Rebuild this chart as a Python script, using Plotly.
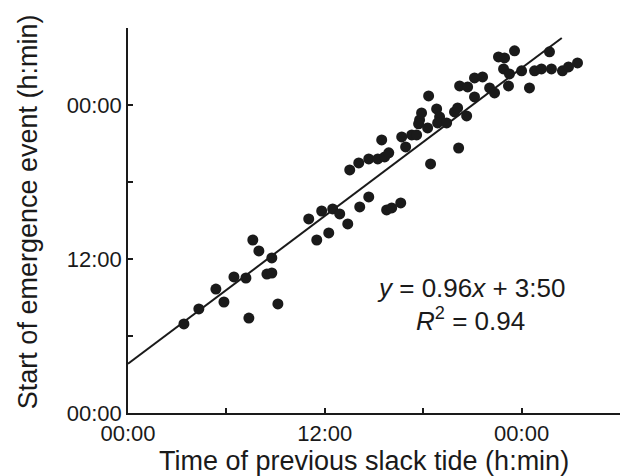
import plotly.graph_objects as go

# Hours since reference midnight (x: previous slack tide, y: start of emergence)
slack_h = [3.41, 4.32, 5.36, 5.85, 6.46, 7.19, 7.37, 7.61, 7.98, 8.77, 8.47, 8.77, 9.14,
           11.02, 11.81, 12.48, 12.91, 13.40, 11.51, 12.24, 14.13, 14.68, 15.77, 16.08, 16.63,
           13.52, 14.07, 14.68, 15.23, 15.47, 15.65, 15.90, 16.69, 16.93, 17.30, 17.60,
           17.78, 17.72, 17.90, 18.33, 18.82, 18.45, 19.00, 18.88, 19.43, 19.91, 20.10,
           20.16, 20.65, 20.22, 20.71, 21.13, 21.62, 21.13, 22.05, 22.35, 22.59, 22.96,
           23.57, 22.90, 23.26, 23.20, 24.00, 24.48, 24.79, 25.21, 25.70, 25.82, 26.49,
           26.86, 27.41, 18.27]
emerge_h = [6.94, 8.11, 9.66, 8.65, 10.60, 10.52, 7.40, 13.48, 12.63, 12.08, 10.83, 10.91, 8.50,
            15.12, 15.74, 15.90, 15.51, 14.73, 13.48, 14.03, 16.06, 16.84, 15.82, 15.98, 16.37,
            18.94, 19.49, 19.80, 19.80, 21.28, 19.95, 20.27, 21.51, 20.73, 21.67, 21.67,
            22.84, 22.53, 23.38, 24.71, 23.69, 19.41, 23.07, 22.60, 22.60, 23.46, 23.77,
            20.65, 23.15, 25.49, 25.41, 26.11, 26.19, 24.63, 25.33, 24.94, 27.75, 27.67,
            28.22, 26.81, 26.42, 25.49, 26.66, 25.33, 26.66, 26.81, 28.14, 26.81, 26.66,
            26.97, 27.28, 22.21]

# Regression shown on the chart: y = 0.96x + 3:50
slope = 0.96
intercept = 3 + 50 / 60
fit_x = [0.0, 26.45]
fit_y = [slope * v + intercept for v in fit_x]

tick_vals = [0, 12, 24]
tick_text = ["00:00", "12:00", "00:00"]
minor_tick_vals = [6, 18, 30]

x_title = "Time of previous slack tide (h:min)"
y_title = "Start of emergence event (h:min)"

FONT = "Liberation Sans, Arial, Helvetica, sans-serif"
INK = "#1a1a1a"

fig = go.Figure()
fig.add_trace(go.Scatter(x=fit_x, y=fit_y, mode="lines",
                         line=dict(color=INK, width=2), showlegend=False,
                         hoverinfo="skip"))
fig.add_trace(go.Scatter(x=slack_h, y=emerge_h, mode="markers",
                         marker=dict(color=INK, size=11), showlegend=False))

axis_common = dict(
    tickmode="array", tickvals=tick_vals, ticktext=tick_text,
    ticks="inside", ticklen=5, tickwidth=1.5, tickcolor=INK,
    minor=dict(tickmode="array", tickvals=minor_tick_vals, ticks="inside",
               ticklen=5, tickwidth=1.5, tickcolor=INK, showgrid=False),
    showline=True, linecolor=INK, linewidth=1.5, mirror=False,
    showgrid=False, zeroline=False, range=[0, 30],
    tickfont=dict(family=FONT, size=22, color=INK),
    automargin=False,
)

fig.update_layout(
    width=626, height=476,
    margin=dict(l=128, r=6, t=28, b=63),
    paper_bgcolor="white", plot_bgcolor="white",
    xaxis=dict(**axis_common),
    yaxis=dict(**axis_common),
    annotations=[
        dict(x=0.48, y=-0.125, xref="paper", yref="paper", showarrow=False,
             xanchor="center", yanchor="middle", text=x_title,
             font=dict(family=FONT, size=27, color=INK)),
        dict(x=-0.203, y=0.522, xref="paper", yref="paper", showarrow=False,
             xanchor="center", yanchor="middle", textangle=-90, text=y_title,
             font=dict(family=FONT, size=27, color=INK)),
        dict(x=20.9, y=9.75, xref="x", yref="y", showarrow=False,
             text="<i>y</i> = 0.96<i>x</i> + 3:50",
             font=dict(family=FONT, size=26, color=INK)),
        dict(x=20.9, y=7.3, xref="x", yref="y", showarrow=False,
             text="<i>R</i><sup>2</sup> = 0.94",
             font=dict(family=FONT, size=26, color=INK)),
    ],
)

fig.write_html("out.html", config={"displayModeBar": False},
               post_script="document.body.style.margin='0';document.body.style.overflow='hidden';")
